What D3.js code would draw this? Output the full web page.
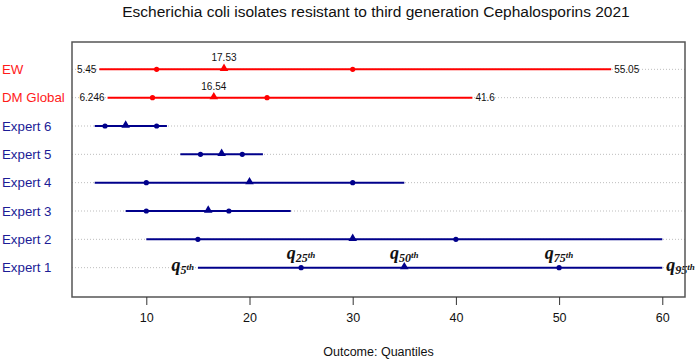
<!DOCTYPE html>
<html><head><meta charset="utf-8">
<script src="https://cdn.jsdelivr.net/npm/d3@7"></script>
<style>body{margin:0;background:#fff}svg{display:block}</style>
</head><body>
<svg id="c" width="699" height="361"></svg>
<script>
const categories = ["Expert 1","Expert 2","Expert 3","Expert 4","Expert 5","Expert 6","DM Global","EW"];
const q5  = [15, 10, 8, 5, 13.3, 5, 6.246, 5.45];
const q25 = [25, 15, 10, 10, 15.25, 6, 10.6, 11];
const q50 = [35, 30, 16, 20, 17.3, 8, 16.54, 17.53];
const q75 = [50, 40, 18, 30, 19.3, 11, 21.7, 30];
const q95 = [60, 60, 24, 35, 21.3, 12, 41.6, 55.05];
const groups = ["expert","expert","expert","expert","expert","expert","pooled","pooled"];
const xTicks = [10, 20, 30, 40, 50, 60];
const quantileLabels = [{q:"q5",sub:"5"},{q:"q25",sub:"25"},{q:"q50",sub:"50"},{q:"q75",sub:"75"},{q:"q95",sub:"95"}];
const title = "Escherichia coli isolates resistant to third generation Cephalosporins 2021";
const xTitle = "Outcome: Quantiles";

const rows = categories.map((c,i)=>({cat:c,i:i+1,q5:q5[i],q25:q25[i],q50:q50[i],q75:q75[i],q95:q95[i],g:groups[i]}));
const color = {expert:"#00008B", pooled:"#FF0000"};
const labColor = {expert:"#1C1C96", pooled:"#FF1A1A"};

const svg = d3.select("#c");
const L=72,R=685,T=42,B=297;
const x = d3.scaleLinear().domain([2.8,62.2]).range([L,R]);
const y = d3.scaleLinear().domain([0,9]).range([296,41]);

// title
svg.append("text").attr("x",376).attr("y",17).attr("text-anchor","middle")
  .attr("font-family","Liberation Sans, Arial, sans-serif").attr("font-size",15.5).attr("fill","#111").text(title);

// grid dotted lines
svg.append("g").selectAll("line").data(rows).join("line")
  .attr("x1",L).attr("x2",R).attr("y1",d=>y(d.i)).attr("y2",d=>y(d.i))
  .attr("stroke","#bdbdbd").attr("stroke-width",1).attr("stroke-dasharray","1,2");

// row labels
svg.append("g").selectAll("text").data(rows).join("text")
  .attr("x",2).attr("y",d=>y(d.i)+4.5).attr("font-family","Liberation Sans, Arial, sans-serif")
  .attr("font-size",13.3).attr("fill",d=>labColor[d.g]).text(d=>d.cat);

// range lines
svg.append("g").selectAll("line").data(rows).join("line")
  .attr("x1",d=>x(d.q5)).attr("x2",d=>x(d.q95)).attr("y1",d=>y(d.i)).attr("y2",d=>y(d.i))
  .attr("stroke",d=>color[d.g]).attr("stroke-width",2);

// quartile points
const pts = [];
rows.forEach(d=>{pts.push({x:d.q25,r:d}); pts.push({x:d.q75,r:d});});
svg.append("g").selectAll("circle").data(pts).join("circle")
  .attr("cx",d=>x(d.x)).attr("cy",d=>y(d.r.i)).attr("r",2.6).attr("fill",d=>color[d.r.g]);

// median triangles
const tri = d3.symbol().type(d3.symbolTriangle).size(32);
svg.append("g").selectAll("path").data(rows).join("path")
  .attr("d",tri).attr("transform",d=>`translate(${x(d.q50)},${y(d.i)-0.8})`).attr("fill",d=>color[d.g]);

// numeric annotations for pooled rows
const pooled = rows.filter(d=>d.g==="pooled");
const fnt = "Liberation Sans, Arial, sans-serif";
const fmt = v=>String(v);
pooled.forEach(d=>{
  const yy=y(d.i);
  svg.append("text").attr("x",x(d.q5)-3).attr("y",yy+3.5).attr("text-anchor","end").attr("font-family",fnt).attr("font-size",10).attr("fill","#111").text(fmt(d.q5));
  svg.append("text").attr("x",x(d.q95)+3).attr("y",yy+3.5).attr("text-anchor","start").attr("font-family",fnt).attr("font-size",10).attr("fill","#111").text(fmt(d.q95));
  svg.append("text").attr("x",x(d.q50)).attr("y",yy-8).attr("text-anchor","middle").attr("font-family",fnt).attr("font-size",10).attr("fill","#111").text(fmt(d.q50));
});

// quantile labels for Expert 1
const e1 = rows[0];
const qv = [e1.q5,e1.q25,e1.q50,e1.q75,e1.q95];
const serif = "Liberation Serif, DejaVu Serif, serif";
function qLabel(xp, yp, anchor, sub){
  const t = svg.append("text").attr("x",xp).attr("y",yp).attr("text-anchor",anchor)
    .attr("font-family",serif).attr("font-weight","bold").attr("font-style","italic").attr("fill","#111");
  t.append("tspan").attr("font-size",18).text("q");
  t.append("tspan").attr("font-size",12).attr("dy",3.5).text(sub);
  t.append("tspan").attr("font-size",9).attr("dy",-4.5).text("th");
}
const ye1 = y(e1.i);
qLabel(x(qv[0])-4, ye1+3, "end", quantileLabels[0].sub);
qLabel(x(qv[1]), ye1-9, "middle", quantileLabels[1].sub);
qLabel(x(qv[2]), ye1-9, "middle", quantileLabels[2].sub);
qLabel(x(qv[3]), ye1-9, "middle", quantileLabels[3].sub);
qLabel(x(qv[4])+4, ye1+3, "start", quantileLabels[4].sub);

// box
svg.append("rect").attr("x",L).attr("y",T).attr("width",R-L).attr("height",B-T)
  .attr("fill","none").attr("stroke","#555").attr("stroke-width",1.5);

// x axis
const ax = svg.append("g").attr("transform",`translate(0,${B})`)
  .call(d3.axisBottom(x).tickValues(xTicks).tickSize(8).tickPadding(8).tickFormat(d3.format("d")));
ax.select(".domain").remove();
ax.selectAll("line").attr("stroke","#333");
ax.selectAll("text").attr("font-family",fnt).attr("font-size",12.5).attr("fill","#111");

svg.append("text").attr("x",(L+R)/2).attr("y",356).attr("text-anchor","middle")
  .attr("font-family",fnt).attr("font-size",12.5).attr("fill","#111").text(xTitle);
</script>
</body></html>
